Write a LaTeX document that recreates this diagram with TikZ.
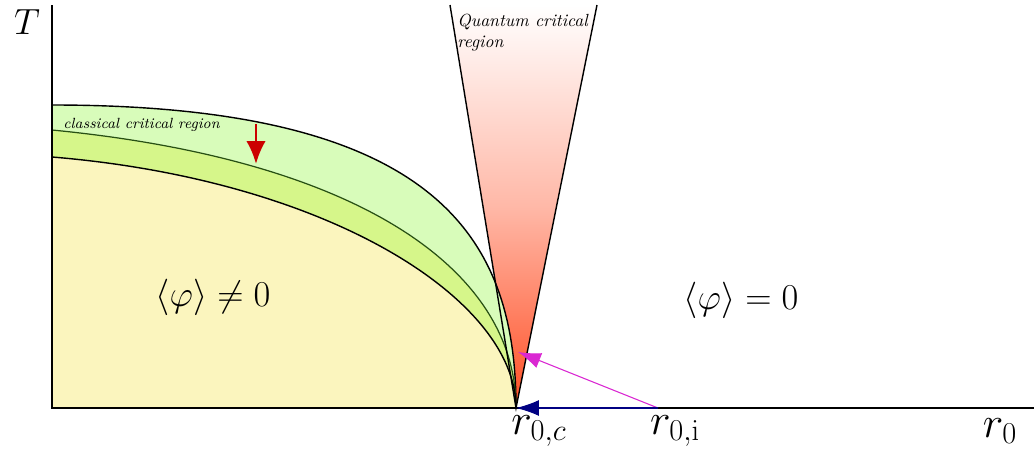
\documentclass[tikz,border=0pt]{standalone}
\usepackage{amsmath,amssymb}
\usepackage{tikz}
\usetikzlibrary{arrows.meta,positioning,calc}
\definecolor{ccrgreen}{RGB}{216,252,186}
\definecolor{ccrlime}{RGB}{214,246,138}
\definecolor{orderyellow}{RGB}{251,245,190}
\definecolor{qcrred}{RGB}{255,78,36}
\definecolor{flowmagenta}{RGB}{218,40,210}
\definecolor{flownavy}{RGB}{0,0,130}
\definecolor{linegreen}{RGB}{40,80,20}

\begin{document}
\begin{tikzpicture}[
    x=0.02cm, y=-0.02cm,
    axis/.style={line width=0.8pt},
    border/.style={line width=0.8pt},
    flow/.style={line width=0.6pt, -{Latex[length=13pt,width=9pt]}},
    lbl/.style={inner sep=0pt},
    biglbl/.style={inner sep=0pt, font=\fontsize{25}{30}\selectfont}
]
\useasboundingbox (0,0) rectangle (1034,450);

% Points
\coordinate (origin) at (52,408);
\coordinate (ymax) at (52,5);
\coordinate (xmax) at (1034,408);
\coordinate (rc) at (516,408);
\coordinate (ri) at (658,408);
\coordinate (qleft) at (450,5);
\coordinate (qright) at (597,5);
\coordinate (qhit) at (518,352);

% Quantum critical wedge
\shade[top color=white, bottom color=qcrred, middle color=qcrred!40]
    (rc) -- (qleft) -- (qright) -- cycle;

% Phases
\fill[ccrgreen] (52,105) .. controls (440,105) and (516,240) .. (rc) -- (origin) -- cycle;
\fill[ccrlime] (52,130) .. controls (360,160) and (516,270) .. (rc) -- (origin) -- cycle;
\fill[orderyellow] (52,157) .. controls (330,180) and (516,300) .. (rc) -- (origin) -- cycle;

\draw[border] (52,105) .. controls (440,105) and (516,240) .. (rc);
\draw[line width=0.7pt, linegreen] (52,130) .. controls (360,160) and (516,270) .. (rc);
\draw[border] (52,157) .. controls (330,180) and (516,300) .. (rc);

\draw[border] (qleft) -- (rc) -- (qright);

% Axes
\draw[axis] (ymax) -- (origin) -- (xmax);

% Arrows
\coordinate (tstart) at (256,124);
\coordinate (tend) at (256,164);
\draw[line width=1.5pt, red!80!black, -{Latex[length=13pt,width=11pt]}] (tstart) -- (tend);
\draw[flow, flowmagenta] (ri) -- (qhit);
\draw[flow, flownavy] (ri) -- (rc);

% Labels
\node[lbl] (tlabel) at (27,22) {\huge $T$};
\node[lbl, anchor=north west, align=left, font=\normalsize\itshape] (qcr) at (457,14)
    {Quantum critical\\region};
\node[lbl, anchor=west, font=\fontsize{8.4}{10}\selectfont\itshape] (ccr) at (63,125) {classical critical region};
\node[lbl] (ordered) at (213,297) {\huge $\langle\varphi\rangle\neq 0$};
\node[lbl] (disordered) at (741,300) {\huge $\langle\varphi\rangle=0$};
\node[biglbl] (rclabel) at (539,431) {$r_{0,c}$};
\node[biglbl] (rilabel) at (675,431) {$r_{0,\mathrm{i}}$};
\node[biglbl] (rlabel) at (1000,431) {$r_0$};

\end{tikzpicture}
\end{document}
